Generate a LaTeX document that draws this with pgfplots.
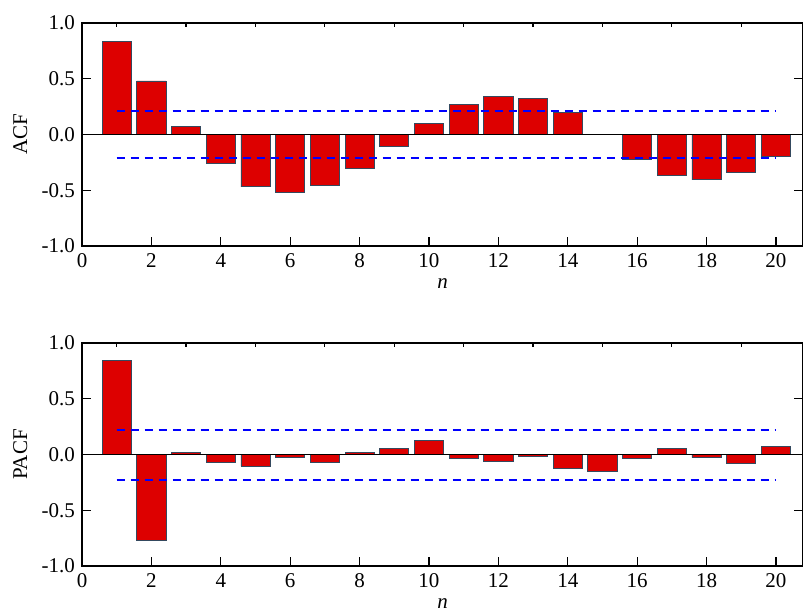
\documentclass[border=0pt]{standalone}
\usepackage{pgfplots}
\pgfplotsset{compat=1.18}
\usepackage{pgfplotstable}
\usepackage{fontspec}
\setmainfont{Liberation Serif}
\definecolor{barred}{HTML}{DD0000}
\definecolor{baredge}{HTML}{34495E}
\definecolor{confblue}{HTML}{0000FF}

\pgfplotstableread{
n val
1 0.837
2 0.480
3 0.072
4 -0.257
5 -0.470
6 -0.520
7 -0.455
8 -0.305
9 -0.107
10 0.100
11 0.266
12 0.344
13 0.320
14 0.195
16 -0.224
17 -0.365
18 -0.406
19 -0.344
20 -0.197
}\acf

\pgfplotstableread{
n val
1 0.845
2 -0.767
3 0.018
4 -0.069
5 -0.105
6 -0.027
7 -0.069
8 0.021
9 0.057
10 0.123
11 -0.039
12 -0.060
13 -0.015
14 -0.126
15 -0.153
16 -0.039
17 0.051
18 -0.027
19 -0.078
20 0.069
}\pacf

\pgfplotstableread{
n up lo
1 0.212 -0.210
20 0.212 -0.210
}\acfconf

\pgfplotstableread{
n up lo
1 0.218 -0.227
20 0.218 -0.227
}\pacfconf

\pgfplotsset{
  myframe/.style={
    scale only axis, width=721pt, height=223pt,
    xmin=0, xmax=20.78, ymin=-1, ymax=1,
    axis line style={black, line width=1.3pt},
    tick style={black, line width=1.2pt},
    tick align=inside,
    clip=false,
  },
  mymain/.style={
    myframe,
    xtick={0,2,...,20}, xtick pos=left,
    ytick={-1,-0.5,0,0.5,1}, ytick pos=both,
    yticklabels={-1.0,-0.5,0.0,0.5,1.0},
    major tick length=9pt,
    /pgf/number format/assume math mode=true,
    every tick label/.append style={font=\fontsize{21pt}{24pt}\selectfont},
    every axis label/.append style={font=\fontsize{21pt}{25pt}\selectfont},
    xlabel={\textit{n}},
    xlabel style={yshift=-3pt, inner sep=1pt},
  },
  mytop/.style={
    myframe,
    xtick={1,3,...,19}, xtick pos=right, xticklabels={},
    ytick=\empty,
    major tick length=4.5pt,
  },
  myconf/.style={draw=confblue, line width=1.8pt, dash pattern=on 8pt off 6pt},
}

\begin{document}
\fontsize{21pt}{24pt}\selectfont
\begin{tikzpicture}
\useasboundingbox (0,0) rectangle (803pt,615pt);
% ACF
\begin{axis}[mymain, at={(82pt,369pt)}, anchor=south west, ylabel={ACF}]
\addplot[ybar, bar shift=0pt, bar width=0.84, fill=barred, draw=baredge, line width=0.8pt] table[x=n, y=val] {\acf};
\addplot[draw=black, line width=1.2pt] coordinates {(0,0) (20.78,0)};
\addplot[myconf] table[x=n, y=up] {\acfconf};
\addplot[myconf] table[x=n, y=lo] {\acfconf};
\end{axis}
\begin{axis}[mytop, at={(82pt,369pt)}, anchor=south west]
\end{axis}
% PACF
\begin{axis}[mymain, at={(82pt,49pt)}, anchor=south west, ylabel={PACF}]
\addplot[ybar, bar shift=0pt, bar width=0.84, fill=barred, draw=baredge, line width=0.8pt] table[x=n, y=val] {\pacf};
\addplot[draw=black, line width=1.2pt] coordinates {(0,0) (20.78,0)};
\addplot[myconf] table[x=n, y=up] {\pacfconf};
\addplot[myconf] table[x=n, y=lo] {\pacfconf};
\end{axis}
\begin{axis}[mytop, at={(82pt,49pt)}, anchor=south west]
\end{axis}
\end{tikzpicture}
\end{document}
